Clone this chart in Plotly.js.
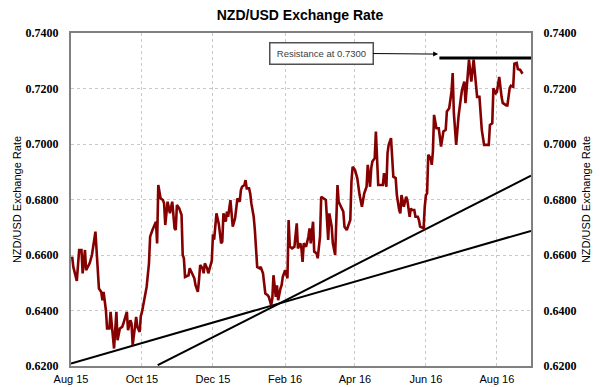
<!DOCTYPE html>
<html>
<head>
<meta charset="utf-8">
<script src="https://cdn.plot.ly/plotly-3.0.1.min.js"></script>
<style>html,body{margin:0;padding:0;background:#fff}#chart{width:600px;height:387px}</style>
</head>
<body>
<div id="chart"></div>
<script>
const dates = [
'2015-08-02','2015-08-03','2015-08-06','2015-08-08','2015-08-10','2015-08-11','2015-08-13','2015-08-14','2015-08-17','2015-08-19',
'2015-08-22','2015-08-24','2015-08-25','2015-08-27','2015-08-28','2015-08-29','2015-08-31','2015-09-01','2015-09-03','2015-09-04',
'2015-09-06','2015-09-07','2015-09-09','2015-09-10','2015-09-12','2015-09-14','2015-09-15','2015-09-18','2015-09-19','2015-09-21',
'2015-09-22','2015-09-23','2015-09-26','2015-09-27','2015-09-29','2015-09-30','2015-10-01','2015-10-03','2015-10-05','2015-10-07',
'2015-10-08','2015-10-10','2015-10-12','2015-10-13','2015-10-14','2015-10-15','2015-10-17','2015-10-19','2015-10-20','2015-10-21',
'2015-10-23','2015-10-24','2015-10-25','2015-10-27','2015-10-28','2015-10-29','2015-10-30','2015-10-31','2015-11-02','2015-11-04',
'2015-11-05','2015-11-06','2015-11-07','2015-11-08','2015-11-10','2015-11-11','2015-11-13','2015-11-15','2015-11-16','2015-11-18',
'2015-11-19','2015-11-20','2015-11-22','2015-11-23','2015-11-24','2015-11-26','2015-11-27','2015-11-28','2015-11-30','2015-12-01',
'2015-12-02','2015-12-04','2015-12-06','2015-12-08','2015-12-09','2015-12-10','2015-12-12','2015-12-13','2015-12-14','2015-12-16',
'2015-12-18','2015-12-20','2015-12-21','2015-12-22','2015-12-24','2015-12-25','2015-12-26','2015-12-28','2015-12-29','2015-12-30',
'2016-01-01','2016-01-02','2016-01-03','2016-01-05','2016-01-06','2016-01-07','2016-01-08','2016-01-10','2016-01-11','2016-01-13',
'2016-01-14','2016-01-15','2016-01-17','2016-01-18','2016-01-20','2016-01-21','2016-01-22','2016-01-23','2016-01-24','2016-01-25',
'2016-01-26','2016-01-28','2016-01-29','2016-01-30','2016-02-01','2016-02-03','2016-02-04','2016-02-05','2016-02-07','2016-02-09',
'2016-02-11','2016-02-12','2016-02-14','2016-02-15','2016-02-16','2016-02-17','2016-02-19','2016-02-21','2016-02-22','2016-02-23',
'2016-02-25','2016-02-26','2016-02-28','2016-02-29','2016-03-02','2016-03-03','2016-03-05','2016-03-07','2016-03-09','2016-03-10',
'2016-03-12','2016-03-13','2016-03-15','2016-03-17','2016-03-18','2016-03-20','2016-03-22','2016-03-23','2016-03-25','2016-03-26',
'2016-03-28','2016-03-29','2016-03-30','2016-04-01','2016-04-03','2016-04-05','2016-04-07','2016-04-09','2016-04-11','2016-04-12',
'2016-04-14','2016-04-15','2016-04-16','2016-04-18','2016-04-19','2016-04-21','2016-04-23','2016-04-25','2016-04-26','2016-04-28',
'2016-04-29','2016-04-30','2016-05-02','2016-05-03','2016-05-04','2016-05-06','2016-05-07','2016-05-09','2016-05-10','2016-05-11',
'2016-05-13','2016-05-14','2016-05-15','2016-05-16','2016-05-18','2016-05-19','2016-05-20','2016-05-22','2016-05-23','2016-05-25',
'2016-05-26','2016-05-27','2016-05-30','2016-05-31','2016-06-01','2016-06-02','2016-06-03','2016-06-05','2016-06-06','2016-06-07',
'2016-06-08','2016-06-10','2016-06-12','2016-06-14','2016-06-16','2016-06-18','2016-06-19','2016-06-21','2016-06-23','2016-06-24',
'2016-06-25','2016-06-27','2016-06-29','2016-07-01','2016-07-02','2016-07-04','2016-07-05','2016-07-08','2016-07-09','2016-07-10',
'2016-07-12','2016-07-14','2016-07-15','2016-07-17','2016-07-19','2016-07-21','2016-07-25','2016-07-26','2016-07-28','2016-07-29',
'2016-07-31','2016-08-01','2016-08-03','2016-08-05','2016-08-06','2016-08-09','2016-08-10','2016-08-12','2016-08-13','2016-08-15',
'2016-08-16','2016-08-18','2016-08-19','2016-08-21','2016-08-23'
];
const rates = [
0.6594,0.6557,0.6507,0.6618,0.6618,0.6534,0.6618,0.6545,0.6570,0.6600,
0.6684,0.6570,0.6479,0.6467,0.6437,0.6467,0.6401,0.6335,0.6335,0.6395,
0.6293,0.6263,0.6395,0.6293,0.6335,0.6341,0.6353,0.6395,0.6329,0.6365,
0.6353,0.6275,0.6377,0.6341,0.6323,0.6380,0.6395,0.6437,0.6485,0.6570,
0.6666,0.6690,0.6708,0.6720,0.6642,0.6852,0.6804,0.6798,0.6786,0.6708,
0.6792,0.6774,0.6750,0.6792,0.6738,0.6696,0.6690,0.6780,0.6768,0.6744,
0.6600,0.6588,0.6521,0.6524,0.6527,0.6552,0.6534,0.6516,0.6491,0.6467,
0.6509,0.6564,0.6552,0.6534,0.6570,0.6552,0.6534,0.6550,0.6580,0.6675,
0.6655,0.6750,0.6712,0.6642,0.6648,0.6750,0.6720,0.6756,0.6738,0.6798,
0.6702,0.6732,0.6762,0.6804,0.6792,0.6834,0.6846,0.6852,0.6870,0.6840,
0.6840,0.6822,0.6786,0.6738,0.6690,0.6618,0.6557,0.6552,0.6557,0.6534,
0.6485,0.6461,0.6455,0.6449,0.6419,0.6443,0.6527,0.6485,0.6449,0.6491,
0.6437,0.6479,0.6491,0.6521,0.6545,0.6516,0.6726,0.6630,0.6624,0.6630,
0.6714,0.6624,0.6642,0.6624,0.6575,0.6642,0.6630,0.6666,0.6696,0.6642,
0.6720,0.6612,0.6606,0.6588,0.6666,0.6810,0.6804,0.6798,0.6654,0.6750,
0.6702,0.6642,0.6600,0.6852,0.6792,0.6774,0.6756,0.6702,0.6690,0.6702,
0.6726,0.6864,0.6918,0.6907,0.6877,0.6816,0.6774,0.6822,0.6846,0.6925,
0.6846,0.6913,0.6937,0.6949,0.7045,0.6852,0.6852,0.6852,0.6895,0.6846,
0.6967,0.6997,0.7021,0.6937,0.6882,0.6877,0.6816,0.6762,0.6750,0.6816,
0.6774,0.6792,0.6810,0.6798,0.6738,0.6768,0.6762,0.6762,0.6738,0.6738,
0.6726,0.6702,0.6696,0.6774,0.6816,0.6822,0.6961,0.6949,0.6925,0.6973,
0.7105,0.7057,0.7057,0.6991,0.7045,0.7051,0.7117,0.7129,0.7189,0.7256,
0.7111,0.6997,0.7099,0.7165,0.7195,0.7225,0.7147,0.7304,0.7267,0.7225,
0.7304,0.7207,0.7170,0.7170,0.7051,0.6997,0.6997,0.7069,0.7075,0.7201,
0.7183,0.7188,0.7242,0.7170,0.7148,0.7139,0.7139,0.7202,0.7210,0.7206,
0.7289,0.7292,0.7270,0.7267,0.7253
];
const trendADates = ['2015-08-01', '2016-08-30 07:00'];
const trendAValues = [0.6209, 0.6687];
const trendBDates = ['2015-10-14 12:00', '2016-08-30 07:00'];
const trendBValues = [0.6203, 0.6886];
const resistDates = ['2016-06-12 14:00', '2016-08-30 07:00'];
const resistValues = [0.7310, 0.7310];
const tickDates = ['2015-08-01','2015-10-01','2015-12-01','2016-02-01','2016-04-01','2016-06-01','2016-08-01'];
const tickLabels = ['Aug 15','Oct 15','Dec 15','Feb 16','Apr 16','Jun 16','Aug 16'];
const yTicks = [0.62, 0.64, 0.66, 0.68, 0.70, 0.72, 0.74];
const titleText = 'NZD/USD Exchange Rate';
const axisTitle = 'NZD/USD Exchange Rate';
const noteText = 'Resistance at 0.7300';
const noteX = '2016-06-11 12:00';
const noteY = 0.7324;

const traces = [
  {x: trendADates, y: trendAValues, type: 'scatter', mode: 'lines', line: {color: '#000', width: 2}, hoverinfo: 'skip'},
  {x: trendBDates, y: trendBValues, type: 'scatter', mode: 'lines', line: {color: '#000', width: 2}, hoverinfo: 'skip'},
  {x: dates, y: rates, type: 'scatter', mode: 'lines', line: {color: '#850000', width: 2.6}},
  {x: resistDates, y: resistValues, type: 'scatter', mode: 'lines', line: {color: '#000', width: 3}, yaxis: 'y2'}
];
const yCommon = {
  range: [0.62, 0.74], tickvals: yTicks, tickformat: '.4f',
  tickfont: {family: 'Liberation Serif', size: 12, color: '#000', weight: 'bold'},
  showgrid: true, gridcolor: '#c8c8c8', griddash: 'dot', gridwidth: 1,
  showline: true, linecolor: '#808080', linewidth: 2,
  zeroline: false, ticks: '', ticklabelstandoff: 8, automargin: false, fixedrange: true
};
const layout = {
  width: 600, height: 387,
  margin: {l: 71, r: 69, t: 33, b: 21},
  paper_bgcolor: '#fff', plot_bgcolor: '#fff',
  showlegend: false,
  title: {text: '<b>' + titleText + '</b>', x: 0.5, xanchor: 'center', y: 0.962, yanchor: 'middle',
          font: {family: 'Liberation Sans, Arial', size: 14, color: '#000'}},
  xaxis: {
    type: 'date', range: ['2015-08-01', '2016-08-30 07:00'],
    tickvals: tickDates, ticktext: tickLabels,
    tickfont: {family: 'Liberation Sans, Arial', size: 11, color: '#000'},
    showgrid: true, gridcolor: '#c8c8c8', griddash: 'dot', gridwidth: 1,
    showline: true, linecolor: '#808080', linewidth: 2, mirror: true,
    ticks: '', ticklabelstandoff: 2, automargin: false, zeroline: false
  },
  yaxis: Object.assign({}, yCommon, {
    side: 'left', mirror: false,
    title: {text: axisTitle, standoff: 2, font: {family: 'Liberation Sans, Arial', size: 11, color: '#000'}}
  }),
  yaxis2: Object.assign({}, yCommon, {
    side: 'right', overlaying: 'y', showgrid: false,
    title: {text: axisTitle, standoff: 7, font: {family: 'Liberation Sans, Arial', size: 11, color: '#000'}}
  }),
  annotations: [{
    x: noteX, y: noteY, xref: 'x', yref: 'y',
    text: noteText, showarrow: true, arrowhead: 2, arrowsize: 1, arrowwidth: 1, arrowcolor: '#000',
    ax: -117, ay: -1,
    font: {family: 'Liberation Sans, Arial', size: 9.5, color: '#404040'},
    bgcolor: '#fff', bordercolor: '#505050', borderwidth: 1.5, borderpad: 1,
    width: 100, height: 18
  }]
};
Plotly.newPlot('chart', traces, layout, {displayModeBar: false, staticPlot: true});
</script>
</body>
</html>
